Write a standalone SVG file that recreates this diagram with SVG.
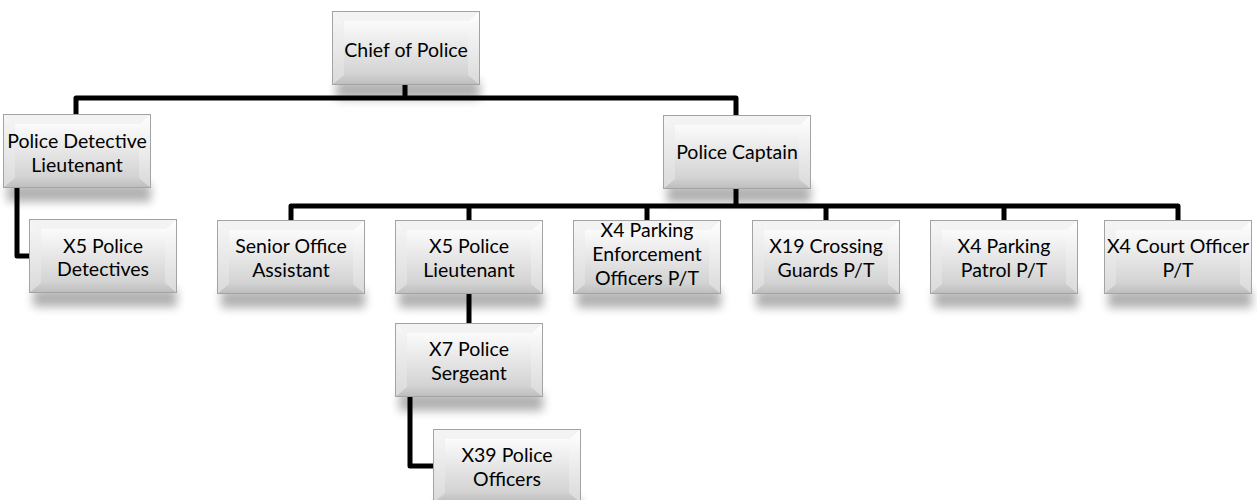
<svg xmlns="http://www.w3.org/2000/svg" xmlns:xlink="http://www.w3.org/1999/xlink" width="1257" height="500" viewBox="0 0 1257 500">
<style>
.lbl{font-family:Lato,"Open Sans","Liberation Sans",sans-serif;font-size:19.5px;fill:#000;text-anchor:middle}
.conn{fill:none;stroke:#000;stroke-width:5;stroke-linejoin:round}
.shadow{fill:#000;opacity:0.3;filter:url(#blur)}
</style>
<defs>
<filter id="blur" x="-20%" y="-100%" width="140%" height="300%"><feGaussianBlur stdDeviation="5"/></filter>
<linearGradient id="gc" x1="0" y1="0" x2="0" y2="1"><stop offset="0" stop-color="#fbfbfb"/><stop offset="1" stop-color="#d2d2d2"/></linearGradient>
<linearGradient id="gl" x1="0" y1="0" x2="0" y2="1"><stop offset="0" stop-color="#f7f7f7"/><stop offset="1" stop-color="#dadada"/></linearGradient>
<linearGradient id="gr" x1="0" y1="0" x2="0" y2="1"><stop offset="0" stop-color="#ffffff"/><stop offset="1" stop-color="#d9d9d9"/></linearGradient>
<linearGradient id="gb" x1="0" y1="0" x2="0" y2="1"><stop offset="0" stop-color="#d0d0d0"/><stop offset="1" stop-color="#bdbdbd"/></linearGradient>
<symbol id="bevel" viewBox="0 0 148 74" width="148" height="74" overflow="visible">
<rect x="4" y="70" width="144" height="18" class="shadow"/>
<rect x="0" y="0" width="148" height="74" fill="#e0e0e0"/>
<polygon points="0,0 148,0 136,10 12,10" fill="#f3f3f3"/>
<polygon points="0,0 12,10 12,64 0,74" fill="url(#gl)"/>
<polygon points="148,0 148,74 136,64 136,10" fill="url(#gr)"/>
<polygon points="0,74 12,64 136,64 148,74" fill="url(#gb)"/>
<rect x="12" y="10" width="124" height="54" fill="url(#gc)"/>
<rect x="0.5" y="0.5" width="147" height="73" fill="none" stroke="#a3a3a3" stroke-width="1"/>
</symbol>
</defs>
<g id="connectors">
<path class="conn" d="M405,85 V98"/>
<path class="conn" d="M76,114 V98 H736 V115"/>
<path class="conn" d="M17,188 V256 H29"/>
<path class="conn" d="M736,189 V206"/>
<path class="conn" d="M291,220 V206 H1178 V220"/>
<path class="conn" d="M469,206 V220 M647,206 V220 M826,206 V220 M1004,206 V220"/>
<path class="conn" d="M469,294 V323"/>
<path class="conn" d="M410,397 V466 H433"/>
</g>
<g id="chief"><use xlink:href="#bevel" x="332" y="11"/><text class="lbl" x="406" y="57">Chief of Police</text></g>
<g id="detective-lieutenant"><use xlink:href="#bevel" x="3" y="114"/><text class="lbl" x="77" y="148">Police Detective</text><text class="lbl" x="77" y="172">Lieutenant</text></g>
<g id="captain"><use xlink:href="#bevel" x="663" y="115"/><text class="lbl" x="737" y="159">Police Captain</text></g>
<g id="detectives"><use xlink:href="#bevel" x="29" y="219"/><text class="lbl" x="103" y="253">X5 Police</text><text class="lbl" x="103" y="276">Detectives</text></g>
<g id="senior-office-assistant"><use xlink:href="#bevel" x="217" y="220"/><text class="lbl" x="291" y="253">Senior Office</text><text class="lbl" x="291" y="277">Assistant</text></g>
<g id="police-lieutenant"><use xlink:href="#bevel" x="395" y="220"/><text class="lbl" x="469" y="253">X5 Police</text><text class="lbl" x="469" y="277">Lieutenant</text></g>
<g id="parking-enforcement"><use xlink:href="#bevel" x="573" y="220"/><text class="lbl" x="647" y="237">X4 Parking</text><text class="lbl" x="647" y="261">Enforcement</text><text class="lbl" x="647" y="285">Officers P/T</text></g>
<g id="crossing-guards"><use xlink:href="#bevel" x="752" y="220"/><text class="lbl" x="826" y="253">X19 Crossing</text><text class="lbl" x="826" y="277">Guards P/T</text></g>
<g id="parking-patrol"><use xlink:href="#bevel" x="930" y="220"/><text class="lbl" x="1004" y="253">X4 Parking</text><text class="lbl" x="1004" y="277">Patrol P/T</text></g>
<g id="court-officer"><use xlink:href="#bevel" x="1104" y="220"/><text class="lbl" x="1178" y="253">X4 Court Officer</text><text class="lbl" x="1178" y="277">P/T</text></g>
<g id="sergeant"><use xlink:href="#bevel" x="395" y="323"/><text class="lbl" x="469" y="356">X7 Police</text><text class="lbl" x="469" y="380">Sergeant</text></g>
<g id="officers"><use xlink:href="#bevel" x="433" y="429"/><text class="lbl" x="507" y="462">X39 Police</text><text class="lbl" x="507" y="486">Officers</text></g>
</svg>
